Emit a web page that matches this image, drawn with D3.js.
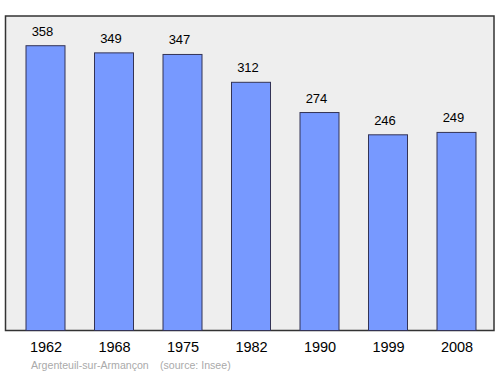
<!DOCTYPE html>
<html><head><meta charset="utf-8">
<script src="https://cdn.jsdelivr.net/npm/d3@7"></script>
<style>body{margin:0;background:#fff}svg{display:block}</style>
</head><body>
<svg id="c" width="500" height="374"></svg>
<script>
const years = ["1962","1968","1975","1982","1990","1999","2008"];
const population = [358,349,347,312,274,246,249];
const commune = "Argenteuil-sur-Armançon";
const sourceText = "(source: Insee)";

const svg = d3.select("#c");
const plot = {x0:5.5, x1:494, y0:16, y1:330.5};
const font = "Liberation Sans, Arial, sans-serif";

svg.append("rect").attr("x",plot.x0).attr("y",plot.y0)
  .attr("width",plot.x1-plot.x0).attr("height",plot.y1-plot.y0)
  .attr("fill","#eeeeee").attr("stroke","#333").attr("stroke-width",1.5);

const x = d3.scalePoint().domain(years).range([45.5, 456.5]);
const y = d3.scaleLinear().domain([0,400]).range([330.5, 12.3]);
const bw = 39;

const g = svg.append("g");
g.selectAll("rect.bar").data(population).join("rect").attr("class","bar")
  .attr("x",(d,i)=>x(years[i]) - bw/2)
  .attr("width",bw)
  .attr("y",d=>y(d)).attr("height",d=>y(0)-y(d))
  .attr("fill","#7799ff").attr("stroke","#333355").attr("stroke-width",1);

g.selectAll("text.val").data(population).join("text").attr("class","val")
  .attr("x",(d,i)=>x(years[i]) - 3)
  .attr("y",d=>y(d)-10)
  .attr("text-anchor","middle").attr("font-family",font)
  .attr("font-size",13).attr("fill","#000").text(d=>d);

const axis = d3.axisBottom(x).tickSize(0).tickPadding(0);
const ax = svg.append("g").attr("transform","translate(0,352)").call(axis);
ax.select(".domain").remove();
ax.selectAll("text").attr("y",0).attr("dy",0).attr("font-family",font)
  .attr("font-size",14.5).attr("fill","#000");

svg.append("text").attr("x",31).attr("y",369).attr("font-family",font)
  .attr("font-size",10.6).attr("fill","#aaa").text(commune);
svg.append("text").attr("x",160).attr("y",369).attr("font-family",font)
  .attr("font-size",10.6).attr("fill","#aaa").text(sourceText);
</script>
</body></html>
